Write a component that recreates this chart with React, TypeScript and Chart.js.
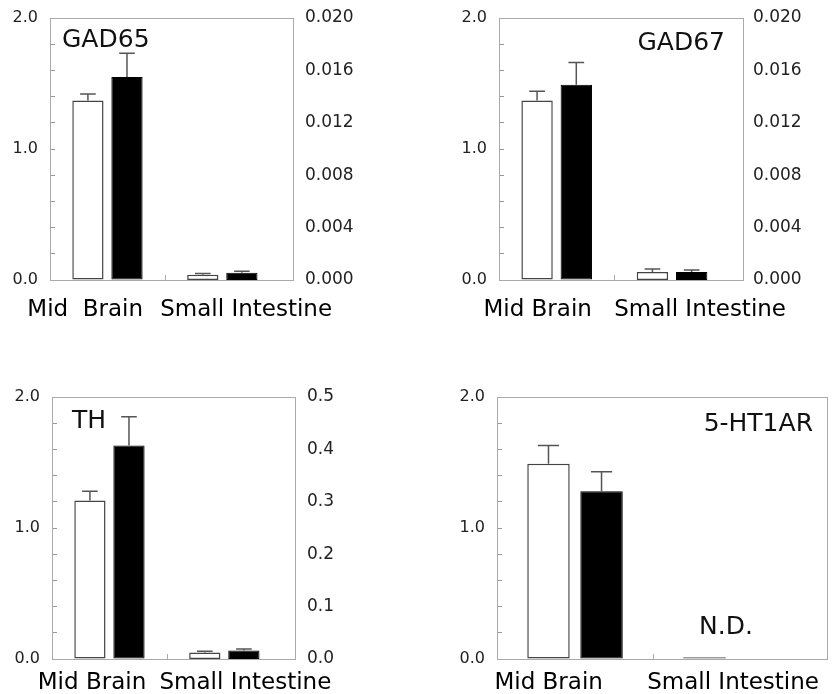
import React, { useEffect, useRef } from "react";
import { Chart, registerables } from "chart.js";

Chart.register(...registerables);

// ---------- data ----------
const categories = ["Mid Brain", "Small Intestine"];
const categoriesP1 = ["Mid  Brain", "Small Intestine"];

// [white, black]
const gad65MidBrain = [1.37, 1.55];
const gad65MidBrainErr = [0.05, 0.18];
const gad65Intestine = [0.0004, 0.00056];
const gad65IntestineErr = [0.0001, 0.0001];

const gad67MidBrain = [1.37, 1.49];
const gad67MidBrainErr = [0.07, 0.17];
const gad67Intestine = [0.00061, 0.00061];
const gad67IntestineErr = [0.00023, 0.00015];

const thMidBrain = [1.21, 1.63];
const thMidBrainErr = [0.07, 0.22];
const thIntestine = [0.0126, 0.0164];
const thIntestineErr = [0.002, 0.0026];

const ht1aMidBrain = [1.49, 1.28];
const ht1aMidBrainErr = [0.14, 0.15];
const ht1aIntestine: (number | null)[] = [0, null]; // N.D.

const leftAxis = { min: 0, max: 2.0, step: 0.2 };
const rightAxisGAD = { min: 0, max: 0.02, step: 0.004, digits: 3 };
const rightAxisTH = { min: 0, max: 0.5, step: 0.1, digits: 1 };

const FONT = "'DejaVu Sans', 'Liberation Sans', Arial, sans-serif";

type Panel = {
  left: number; top: number; w: number; h: number;
  padTop: number; padRight: number; yW: number; y2W: number; xH: number; xPad: number; y2Pad: number;
  title: string; titleAlign: "left" | "right"; titleDx: number; titleDy: number;
  labels: string[]; labelPos: number[];
  mb: number[]; mbErr: number[]; si: (number | null)[]; siErr: number[] | null;
  right: { min: number; max: number; step: number; digits: number } | null;
  nd?: boolean;
};

const panels: Panel[] = [
  {
    left: 0, top: 0, w: 416, h: 347, padTop: 18, padRight: 0, yW: 50, y2W: 123, xH: 67, xPad: 16, y2Pad: 12,
    title: "GAD65", titleAlign: "left", titleDx: 12, titleDy: 29,
    labels: categoriesP1, labelPos: [-0.194, 1.207],
    mb: gad65MidBrain, mbErr: gad65MidBrainErr, si: gad65Intestine, siErr: gad65IntestineErr, right: rightAxisGAD,
  },
  {
    left: 416, top: 0, w: 417, h: 347, padTop: 18, padRight: 0, yW: 83, y2W: 90, xH: 67, xPad: 16, y2Pad: 10,
    title: "GAD67", titleAlign: "right", titleDx: 18, titleDy: 32,
    labels: categories, labelPos: [-0.165, 1.243],
    mb: gad67MidBrain, mbErr: gad67MidBrainErr, si: gad67Intestine, siErr: gad67IntestineErr, right: rightAxisGAD,
  },
  {
    left: 0, top: 347, w: 416, h: 347, padTop: 50, padRight: 0, yW: 52, y2W: 121, xH: 35, xPad: 10, y2Pad: 12,
    title: "TH", titleAlign: "left", titleDx: 20, titleDy: 31,
    labels: categories, labelPos: [-0.152, 1.183],
    mb: thMidBrain, mbErr: thMidBrainErr, si: thIntestine, siErr: thIntestineErr, right: rightAxisTH,
  },
  {
    left: 416, top: 347, w: 417, h: 347, padTop: 50, padRight: 6, yW: 81, y2W: 0, xH: 35, xPad: 10, y2Pad: 12,
    title: "5-HT1AR", titleAlign: "right", titleDx: 14, titleDy: 34,
    labels: categories, labelPos: [-0.169, 1.013],
    mb: ht1aMidBrain, mbErr: ht1aMidBrainErr, si: ht1aIntestine, siErr: null, right: null, nd: true,
  },
];

const X_MIN = -0.5;
const X_MAX = 1.615;

function makeConfig(p: Panel): any {
  const white = { backgroundColor: "#ffffff", borderColor: "#444444", borderWidth: 1.5, borderSkipped: false };
  const black = { backgroundColor: "#000000", borderColor: "#000000", borderWidth: 1, borderSkipped: false };
  const siAxis = p.right ? "y2" : "y";
  const datasets: any[] = [
    { ...white, stack: "w", yAxisID: "y", data: [{ x: 0, y: p.mb[0] }], errors: [p.mbErr[0]] },
    { ...black, stack: "b", yAxisID: "y", data: [{ x: 0, y: p.mb[1] }], errors: [p.mbErr[1]] },
  ];
  if (p.si[0] !== null) {
    if (p.nd) {
      datasets.push({ backgroundColor: "#999999", borderColor: "#999999", borderWidth: 0, minBarLength: 2, stack: "w", yAxisID: siAxis, data: [{ x: 1, y: p.si[0] }], errors: [null] });
    } else {
      datasets.push({ ...white, stack: "w", yAxisID: siAxis, data: [{ x: 1, y: p.si[0] }], errors: [p.siErr ? p.siErr[0] : null] });
    }
  }
  if (p.si[1] !== null) {
    datasets.push({ ...black, stack: "b", yAxisID: siAxis, data: [{ x: 1, y: p.si[1] }], errors: [p.siErr ? p.siErr[1] : null] });
  }

  const scales: any = {
    x: {
      type: "linear",
      min: X_MIN,
      max: X_MAX,
      offset: false,
      bounds: "data",
      grid: { display: false, drawTicks: false },
      border: { display: false },
      afterBuildTicks: (s: any) => { s.ticks = p.labelPos.map((v) => ({ value: v })); },
      afterFit: (s: any) => { s.height = p.xH; },
      ticks: {
        autoSkip: false, maxRotation: 0, minRotation: 0, padding: p.xPad,
        color: "#000", font: { family: FONT, size: 23 },
        callback: (_v: any, i: number) => p.labels[i],
      },
    },
    y: {
      type: "linear",
      position: "left",
      min: leftAxis.min,
      max: leftAxis.max,
      stacked: false,
      grid: { display: true, drawOnChartArea: false, drawTicks: true, tickLength: -5, color: "#999", lineWidth: 1 },
      border: { display: false },
      afterFit: (s: any) => { s.width = p.yW; s.paddingTop = 0; s.paddingBottom = 0; },
      ticks: {
        stepSize: leftAxis.step, autoSkip: false, padding: 17,
        color: "#222", font: { family: FONT, size: 16 },
        callback: (v: any) => (Math.abs(v - Math.round(v)) < 1e-6 ? Number(v).toFixed(1) : ""),
      },
    },
  };
  if (p.right) {
    const r = p.right;
    scales.y2 = {
      type: "linear",
      position: "right",
      min: r.min,
      max: r.max,
      stacked: false,
      grid: { display: false, drawTicks: false },
      border: { display: false },
      afterFit: (s: any) => { s.width = p.y2W; s.paddingTop = 0; s.paddingBottom = 0; },
      ticks: {
        stepSize: r.step, autoSkip: false, padding: p.y2Pad,
        color: "#222", font: { family: FONT, size: 17 },
        callback: (v: any) => Number(v).toFixed(r.digits),
      },
    };
  }

  const framePlugin = {
    id: "frame",
    beforeDatasetsDraw(chart: any) {
      const { ctx, chartArea: a, scales: sc } = chart;
      ctx.save();
      ctx.strokeStyle = "#aaaaaa";
      ctx.lineWidth = 1;
      ctx.strokeRect(Math.round(a.left) + 0.5, Math.round(a.top) + 0.5, Math.round(a.right - a.left), Math.round(a.bottom - a.top));
      // separator tick between categories
      const xs = Math.round(sc.x.getPixelForValue(0.5)) + 0.5;
      ctx.beginPath();
      ctx.moveTo(xs, a.bottom);
      ctx.lineTo(xs, a.bottom - 5);
      ctx.stroke();
      ctx.restore();
    },
  };

  const errorPlugin = {
    id: "errorBars",
    afterDatasetsDraw(chart: any) {
      const ctx = chart.ctx;
      chart.data.datasets.forEach((ds: any, di: number) => {
        const meta = chart.getDatasetMeta(di);
        const yScale = chart.scales[meta.yAxisID];
        meta.data.forEach((bar: any, i: number) => {
          const e = ds.errors ? ds.errors[i] : null;
          const v = ds.data[i].y;
          if (e == null || v == null) return;
          const { x, y, width } = bar.getProps(["x", "y", "width"], true);
          const yTop = yScale.getPixelForValue(v + e);
          ctx.save();
          ctx.strokeStyle = "#555";
          ctx.lineWidth = 1.5;
          ctx.beginPath();
          ctx.moveTo(x, y);
          ctx.lineTo(x, yTop);
          ctx.moveTo(x - width / 4, yTop);
          ctx.lineTo(x + width / 4, yTop);
          ctx.stroke();
          ctx.restore();
        });
      });
    },
  };

  const textPlugin = {
    id: "panelText",
    afterDraw(chart: any) {
      const { ctx, chartArea: a, scales: sc } = chart;
      ctx.save();
      ctx.fillStyle = "#111";
      ctx.font = `25px ${FONT}`;
      ctx.textBaseline = "alphabetic";
      if (p.titleAlign === "left") {
        ctx.textAlign = "left";
        ctx.fillText(p.title, a.left + p.titleDx, a.top + p.titleDy);
      } else {
        ctx.textAlign = "right";
        ctx.fillText(p.title, a.right - p.titleDx, a.top + p.titleDy);
      }
      if (p.nd) {
        ctx.textAlign = "center";
        ctx.fillText("N.D.", sc.x.getPixelForValue(1) - 5, a.bottom - 25);
      }
      ctx.restore();
    },
  };

  return {
    type: "bar",
    data: { datasets },
    options: {
      responsive: false,
      animation: false,
      devicePixelRatio: 1,
      layout: { padding: { top: p.padTop, right: p.padRight, left: 0, bottom: 0 } },
      categoryPercentage: 0.68,
      barPercentage: 0.8,
      plugins: { legend: { display: false }, tooltip: { enabled: false }, title: { display: false } },
      scales,
    },
    plugins: [framePlugin, errorPlugin, textPlugin],
  };
}

function PanelChart({ p }: { p: Panel }) {
  const ref = useRef<HTMLCanvasElement | null>(null);
  useEffect(() => {
    if (!ref.current) return;
    const chart = new Chart(ref.current, makeConfig(p));
    return () => chart.destroy();
  }, [p]);
  return (
    <canvas
      ref={ref}
      width={p.w}
      height={p.h}
      style={{ position: "absolute", left: p.left, top: p.top, width: p.w, height: p.h, display: "block" }}
    />
  );
}

export default function App() {
  return (
    <div style={{ position: "absolute", left: 0, top: 0, width: 833, height: 694, background: "#fff", overflow: "hidden" }}>
      {panels.map((p, i) => (
        <PanelChart key={i} p={p} />
      ))}
    </div>
  );
}
